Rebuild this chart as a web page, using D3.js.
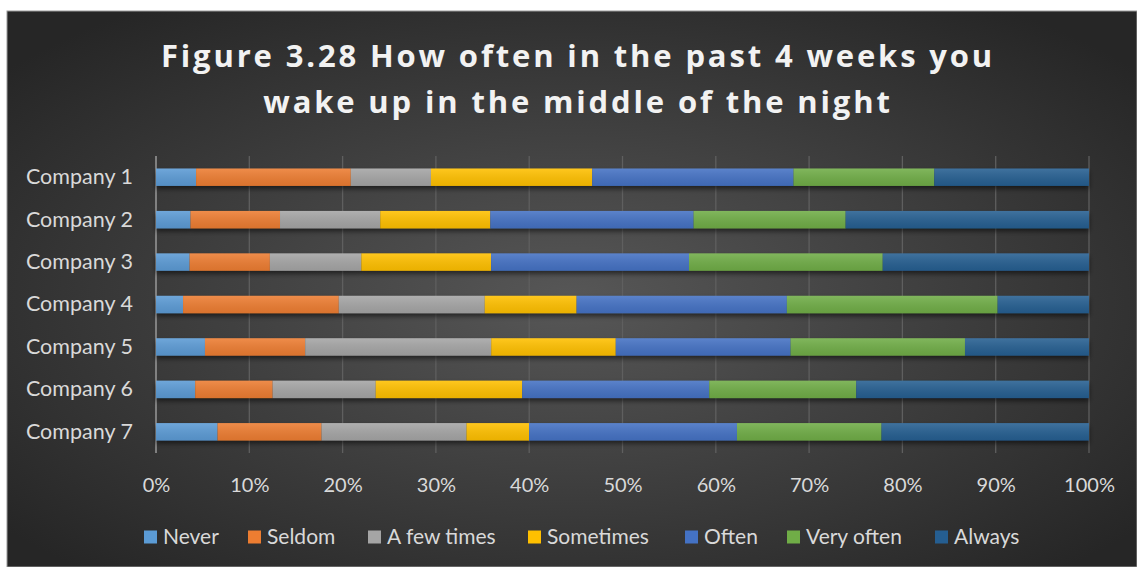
<!DOCTYPE html>
<html><head><meta charset="utf-8">
<script src="https://cdn.jsdelivr.net/npm/d3@7"></script>
<style>html,body{margin:0;padding:0;background:#fff;}svg{display:block;}</style>
</head><body><svg id="c" width="1137" height="567"></svg>
<script>
const categories = ["Company 1","Company 2","Company 3","Company 4","Company 5","Company 6","Company 7"];
const seriesNames = ["Never","Seldom","A few times","Sometimes","Often","Very often","Always"];
const never      = [4.3, 3.7, 3.6, 2.9, 5.25, 4.2, 6.6];
const seldom     = [16.6, 9.6, 8.6, 16.7, 10.75, 8.3, 11.15];
const fewTimes   = [8.6, 10.75, 9.8, 15.65, 19.95, 11.05, 15.55];
const sometimes  = [17.3, 11.8, 13.9, 9.85, 13.35, 15.7, 6.7];
const often      = [21.6, 21.8, 21.2, 22.55, 18.75, 20.05, 22.3];
const veryOften  = [15.1, 16.3, 20.75, 22.6, 18.7, 15.75, 15.5];
const always     = [16.6, 26.1, 22.1, 9.8, 13.3, 24.95, 22.25];
const tickValues = [0,0.1,0.2,0.3,0.4,0.5,0.6,0.7,0.8,0.9,1.0];
const colors = ["#5b9bd5","#ed7d31","#a5a5a5","#ffc000","#4472c4","#70ad47","#255e91"];
const titleLines = ["Figure 3.28 How often in the past 4 weeks you","wake up in the middle of the night"];

const seriesVals = [never, seldom, fewTimes, sometimes, often, veryOften, always];
const rows = categories.map((c,i)=>{
  const o = {cat:c};
  seriesNames.forEach((s,j)=>o[s]=seriesVals[j][i]);
  return o;
});
const normRows = rows.map(r=>{
  const tot = seriesNames.reduce((a,s)=>a+r[s],0);
  const o={cat:r.cat}; seriesNames.forEach(s=>o[s]=r[s]/tot); return o;
});
const stack = d3.stack().keys(seriesNames)(normRows);

const svg = d3.select("#c");
const defs = svg.append("defs");
const rg = defs.append("radialGradient").attr("id","bg").attr("cx","50%").attr("cy","52%").attr("r","65%");
rg.append("stop").attr("offset","0%").attr("stop-color","#575757");
rg.append("stop").attr("offset","100%").attr("stop-color","#262626");
const f = defs.append("filter").attr("id","sh").attr("x","-5%").attr("y","-30%").attr("width","110%").attr("height","190%");
f.append("feDropShadow").attr("dx",0).attr("dy",3).attr("stdDeviation",2.5).attr("flood-color","#000").attr("flood-opacity",0.55);
const lg = defs.append("linearGradient").attr("id","gloss").attr("x1",0).attr("x2",0).attr("y1",0).attr("y2",1);
lg.append("stop").attr("offset","0%").attr("stop-color","#fff").attr("stop-opacity",0.12);
lg.append("stop").attr("offset","100%").attr("stop-color","#000").attr("stop-opacity",0.08);

svg.append("rect").attr("x",7).attr("y",11).attr("width",1130).attr("height",556).attr("fill","url(#bg)");
svg.append("rect").attr("x",7).attr("y",11).attr("width",1130).attr("height",556).attr("fill","none").attr("stroke","#9a9a9a").attr("stroke-width",1);

const x = d3.scaleLinear().domain([0,1]).range([156,1089]);
const y = d3.scaleBand().domain(categories).range([156,453]).paddingInner(0.59).paddingOuter(0.295);

// gridlines
svg.append("g").selectAll("line").data(tickValues).join("line")
  .attr("x1",d=>x(d)).attr("x2",d=>x(d)).attr("y1",156).attr("y2",453)
  .attr("stroke",(d,i)=>i===0?"#9a9a9a":"#5f5f5f").attr("stroke-width",(d,i)=>i===0?1.5:1.3);

// bars
const gBars = svg.append("g").attr("filter","url(#sh)");
gBars.selectAll("g").data(stack).join("g").attr("fill",(d,i)=>colors[i])
  .selectAll("rect").data(d=>d).join("rect")
  .attr("x",d=>x(d[0])).attr("width",d=>x(d[1])-x(d[0]))
  .attr("y",d=>y(d.data.cat)).attr("height",y.bandwidth());
svg.append("g").selectAll("rect").data(categories).join("rect")
  .attr("x",x(0)).attr("width",x(1)-x(0)).attr("y",d=>y(d)).attr("height",y.bandwidth()).attr("fill","url(#gloss)");

const lab = "Lato, 'Open Sans', sans-serif";
// y axis labels
const yAxis = d3.axisLeft(y).tickSize(0).tickPadding(23);
const ya = svg.append("g").attr("transform",`translate(${x(0)},0)`).call(yAxis);
ya.select(".domain").remove();
ya.selectAll("text").attr("fill","#d9d9d9").attr("font-family",lab).attr("font-size",21.5);

// x axis labels
const xAxis = d3.axisBottom(x).tickValues(tickValues).tickFormat(d3.format(".0%")).tickSize(0).tickPadding(0);
const xa = svg.append("g").attr("transform","translate(0,478)").call(xAxis);
xa.select(".domain").remove();
xa.selectAll("text").attr("fill","#d9d9d9").attr("font-family",lab).attr("font-size",20);

// title
svg.append("g").selectAll("text").data(titleLines).join("text")
  .attr("x",578).attr("y",(d,i)=>67+i*45.5).attr("text-anchor","middle")
  .attr("fill","#f2f2f2").attr("font-family","'Open Sans',sans-serif").attr("font-weight","bold")
  .attr("font-size",31).attr("letter-spacing",2.85).text(d=>d);

// legend
const legX = [144,248,368,528,685,787,935];
const leg = svg.append("g").selectAll("g").data(seriesNames).join("g")
  .attr("transform",(d,i)=>`translate(${legX[i]},537)`);
leg.append("rect").attr("x",0).attr("y",-6.5).attr("width",13).attr("height",13).attr("fill",(d,i)=>colors[i]);
leg.append("text").attr("x",19).attr("y",0).attr("dy","0.35em")
  .attr("fill","#d9d9d9").attr("font-family",lab).attr("font-size",21).text(d=>d);
</script></body></html>
